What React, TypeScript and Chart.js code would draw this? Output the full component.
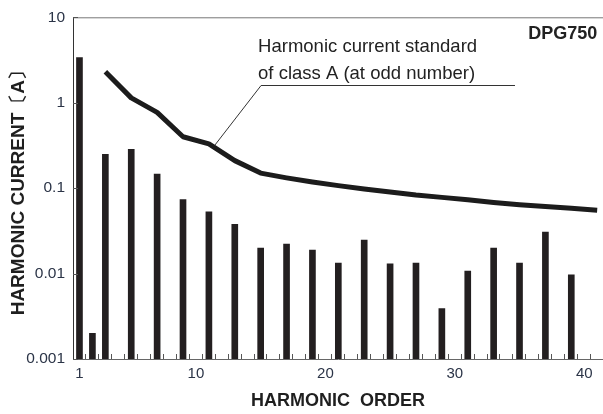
import React, { useEffect, useRef } from 'react';
import { Chart, registerables } from 'chart.js';

Chart.register(...registerables);

// Measured harmonic current of DPG750 (A)
const harmonicOrders = [1, 2, 3, 5, 7, 9, 11, 13, 15, 17, 19, 21, 23, 25, 27, 29, 31, 33, 35, 37, 39];
const measuredCurrent = [3.38, 0.002, 0.248, 0.284, 0.146, 0.0736, 0.0528, 0.0376, 0.0199, 0.0221, 0.0188, 0.0133, 0.0247, 0.013, 0.0133, 0.0039, 0.0107, 0.0199, 0.0133, 0.0305, 0.0097];

// Class A limit (odd orders)
const limitOrders = [3, 5, 7, 9, 11, 13, 15, 17, 19, 21, 23, 25, 27, 29, 31, 33, 35, 37, 39, 41];
const limitCurrent = [2.3, 1.14, 0.77, 0.4, 0.33, 0.21, 0.15, 0.132, 0.118, 0.107, 0.098, 0.09, 0.083, 0.078, 0.073, 0.068, 0.064, 0.061, 0.058, 0.055];

const xTickValues = [1, 10, 20, 30, 40];
const xTickLabels = ['1', '10', '20', '30', '40'];
const xMinorTicks = [1.45, 2.45, 3.45, 4.45, 5.45, 6.45, 7.45, 8.45, 9.45, 10.45, 11.45, 12.45, 13.45, 14.45, 15.45, 16.45, 17.45, 18.45, 19.45, 20.45, 21.45, 22.45, 23.45, 24.45, 25.45, 26.45, 27.45, 28.45, 29.45, 30.45, 31.45, 32.45, 33.45, 34.45, 35.45, 36.45, 37.45, 38.45, 39.45, 40.45];
const yTickValues = [0.001, 0.01, 0.1, 1, 10];
const yTickLabels = ['0.001', '0.01', '0.1', '1', '10'];

const annotationLines = ['Harmonic current standard', 'of class A (at odd number)'];
const modelLabel = 'DPG750';

const FONT = '"Liberation Sans", Arial, Helvetica, sans-serif';

const overlayPlugin = {
  id: 'overlay',
  afterDraw(chart: any) {
    const { ctx, chartArea, scales } = chart;
    const xs = scales.x;
    const ys = scales.y;
    ctx.save();
    // top frame line
    ctx.strokeStyle = '#777';
    ctx.lineWidth = 1;
    ctx.beginPath();
    ctx.moveTo(chartArea.left, chartArea.top + 0.5);
    ctx.lineTo(chartArea.right, chartArea.top + 0.5);
    ctx.stroke();
    // x minor ticks (inward)
    ctx.strokeStyle = '#555';
    ctx.beginPath();
    xMinorTicks.forEach((v) => {
      const px = Math.round(xs.getPixelForValue(v)) + 0.5;
      ctx.moveTo(px, chartArea.bottom);
      ctx.lineTo(px, chartArea.bottom - 5);
    });
    // y major ticks (inward)
    yTickValues.forEach((v) => {
      const py = Math.round(ys.getPixelForValue(v)) + 0.5;
      ctx.moveTo(chartArea.left, py);
      ctx.lineTo(chartArea.left + 5, py);
    });
    ctx.stroke();

    // annotation
    ctx.fillStyle = '#222';
    ctx.font = `18.5px ${FONT}`;
    ctx.textAlign = 'left';
    ctx.textBaseline = 'alphabetic';
    const tx = xs.getPixelForValue(14.8);
    ctx.fillText(annotationLines[0], tx, ys.getPixelForValue(3.9));
    ctx.fillText(annotationLines[1], tx, ys.getPixelForValue(1.92));
    ctx.strokeStyle = '#333';
    ctx.lineWidth = 1;
    ctx.beginPath();
    const uy = Math.round(ys.getPixelForValue(1.6)) + 0.5;
    ctx.moveTo(xs.getPixelForValue(34.65), uy);
    ctx.lineTo(xs.getPixelForValue(15.03), uy);
    ctx.lineTo(xs.getPixelForValue(11.47), ys.getPixelForValue(0.32));
    ctx.stroke();

    // model label
    ctx.font = `bold 18px ${FONT}`;
    ctx.textAlign = 'right';
    ctx.fillText(modelLabel, xs.getPixelForValue(41.0), ys.getPixelForValue(5.5));
    ctx.restore();
  },
};

export default function App() {
  const ref = useRef<HTMLCanvasElement>(null);
  useEffect(() => {
    if (!ref.current) return;
    const chart = new Chart(ref.current, {
      type: 'bar',
      data: {
        datasets: [
          {
            type: 'line',
            data: limitOrders.map((x, i) => ({ x, y: limitCurrent[i] })),
            borderColor: '#1c1c1c',
            borderWidth: 5,
            pointRadius: 0,
            tension: 0,
            borderJoinStyle: 'round',
            borderCapStyle: 'butt',
          } as any,
          {
            type: 'bar',
            data: harmonicOrders.map((x, i) => ({ x, y: measuredCurrent[i] })),
            backgroundColor: '#231f20',
            barThickness: 6,
          } as any,
        ],
      },
      options: {
        responsive: false,
        animation: false,
        layout: { padding: { top: 17, right: 0, left: 0, bottom: 0 } },
        plugins: { legend: { display: false }, tooltip: { enabled: false } },
        scales: {
          x: {
            type: 'linear',
            offset: false,
            min: 0.5,
            max: 41.45,
            grid: { display: true, drawOnChartArea: false, drawTicks: false },
            border: { display: true, color: '#666', width: 1 },
            afterBuildTicks: (scale: any) => {
              scale.ticks = xTickValues.map((v) => ({ value: v }));
            },
            afterFit: (scale: any) => {
              scale.height = 55;
            },
            ticks: {
              callback: (v: any) => xTickLabels[xTickValues.indexOf(Number(v))] ?? '',
              font: { family: FONT, size: 15 },
              color: '#2b3447',
              padding: 6,
              maxRotation: 0,
              autoSkip: false,
            },
            title: {
              display: true,
              text: 'HARMONIC  ORDER',
              font: { family: FONT, size: 18, weight: 'bold' },
              color: '#1f1f1f',
              padding: { top: 0, bottom: 2 },
            },
          },
          y: {
            type: 'logarithmic',
            min: 0.001,
            max: 10,
            grid: { display: true, drawOnChartArea: false, drawTicks: false },
            border: { display: true, color: '#333', width: 1 },
            afterBuildTicks: (scale: any) => {
              scale.ticks = yTickValues.map((v) => ({ value: v }));
            },
            afterFit: (scale: any) => {
              scale.width = 73;
            },
            ticks: {
              callback: (v: any) => yTickLabels[yTickValues.indexOf(Number(v))] ?? '',
              font: { family: FONT, size: 15.5 },
              color: '#2b3447',
              padding: 8,
              autoSkip: false,
            },
            title: {
              display: true,
              text: 'HARMONIC CURRENT〔A〕',
              font: { family: FONT, size: 19, weight: 'bold' },
              color: '#1f1f1f',
              padding: { top: 7, bottom: 0 },
            },
          },
        },
      },
      plugins: [overlayPlugin],
    });
    return () => chart.destroy();
  }, []);
  return (
    <div style={{ position: 'fixed', left: 0, top: 0, width: 603, height: 414, background: '#fff' }}>
      <canvas ref={ref} width={603} height={414} style={{ display: 'block' }} />
    </div>
  );
}
